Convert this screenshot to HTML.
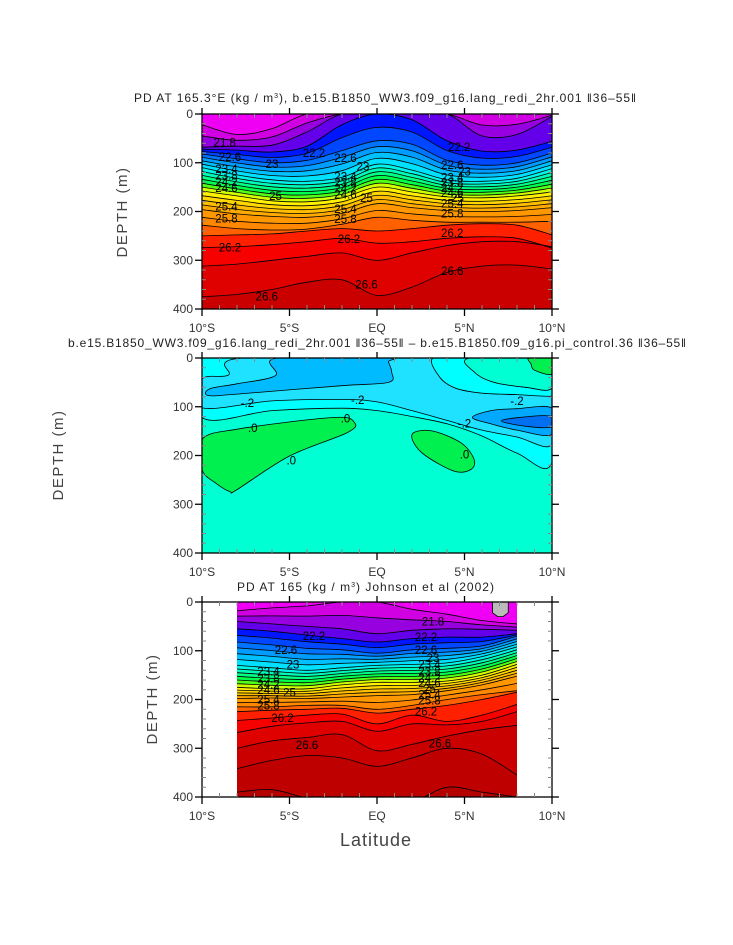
<!DOCTYPE html>
<html><head><meta charset="utf-8"><style>
html,body{margin:0;padding:0;background:#fff;}
svg{display:block;font-family:"Liberation Sans",sans-serif;}
</style></head><body>
<svg id="chart" width="733" height="945" viewBox="0 0 733 945" xmlns="http://www.w3.org/2000/svg">
<defs>
<clipPath id="c1"><rect x="202" y="114" width="350" height="195"/></clipPath>
<clipPath id="c2"><rect x="202" y="358" width="350" height="195"/></clipPath>
<clipPath id="c3"><rect x="237" y="602" width="280" height="195"/></clipPath>
</defs>
<g id="p1"></g>
<g id="p2"></g>
<g id="p3"></g>
<text x="134" y="102" font-size="12" textLength="502" lengthAdjust="spacing" fill="#222">PD AT 165.3°E (kg / m<tspan font-size="7" dy="-4">3</tspan><tspan dy="4">), b.e15.B1850_WW3.f09_g16.lang_redi_2hr.001  ‖36–55‖</tspan></text>
<text x="68" y="347" font-size="12" textLength="618" lengthAdjust="spacing" fill="#222">b.e15.B1850_WW3.f09_g16.lang_redi_2hr.001  ‖36–55‖  –  b.e15.B1850.f09_g16.pi_control.36  ‖36–55‖</text>
<text x="237" y="591" font-size="12" textLength="257" lengthAdjust="spacing" fill="#222">PD AT 165 (kg / m<tspan font-size="7" dy="-4">3</tspan><tspan dy="4">) Johnson et al (2002)</tspan></text>
<text transform="translate(127,212) rotate(-90)" font-size="15" text-anchor="middle" fill="#444" letter-spacing="1.5">DEPTH (m)</text>
<text transform="translate(63,455) rotate(-90)" font-size="15" text-anchor="middle" fill="#444" letter-spacing="1.5">DEPTH (m)</text>
<text transform="translate(157,699) rotate(-90)" font-size="15" text-anchor="middle" fill="#444" letter-spacing="1.5">DEPTH (m)</text>
<text x="376" y="846" font-size="18" text-anchor="middle" fill="#444" letter-spacing="1">Latitude</text>
</svg>
<script>
// ---------- data ----------
const lats1 = [-10,-8,-6,-4,-2,0,2,4,6,8,10];
const levels1 = [21.6,22.0,22.2,22.6,23.4,24.6,25.4,25.8,26.0,26.2,26.4,26.6];
const d1_216 = [22,42,30,0,0,0,0,0,0,0,0];
const d1_220 = [68,66,64,37,0,0,0,0,45,42,5];
const d1_222 = [72,74,78,66,22,0,12,55,76,74,56];
const d1_226 = [82,92,100,95,75,55,62,95,105,100,80];
const d1_234 = [110,125,135,138,130,103,115,135,138,132,112];
const d1_246 = [158,168,178,180,172,150,160,170,172,168,160];
const d1_254 = [196,205,210,212,204,184,192,198,200,198,192];
const d1_258 = [228,235,238,236,226,212,218,222,222,222,220];
const d1_260 = [250,248,246,240,235,240,235,228,225,228,248];
const d1_262 = [274,272,268,262,255,265,262,255,252,255,275];
const d1_264 = [312,308,300,292,285,300,285,270,262,262,272];
const d1_266 = [375,370,360,345,340,372,355,325,312,310,318];
const depths1 = [d1_216,d1_220,d1_222,d1_226,d1_234,d1_246,d1_254,d1_258,d1_260,d1_262,d1_264,d1_266];

const lats3 = [-8,-6,-4,-2,0,2,4,6,8];
const levels3 = [21.6,22.0,22.2,22.6,23.4,24.6,25.4,25.8,26.0,26.2,26.4,26.6,26.8,27.0];
const d3_216 = [18,12,8,0,0,15,25,38,45];
const d3_220 = [40,45,50,55,65,58,55,56,58];
const d3_222 = [55,60,68,75,82,75,72,72,65];
const d3_226 = [82,88,95,98,105,98,95,90,70];
const d3_234 = [130,135,140,135,130,128,125,112,92];
const d3_246 = [175,178,178,170,165,165,162,150,128];
const d3_254 = [198,197,198,195,192,190,182,170,152];
const d3_258 = [215,215,212,212,220,212,200,190,182];
const d3_260 = [225,222,220,218,228,220,212,200,185];
const d3_262 = [243,238,232,230,250,232,245,232,210];
const d3_264 = [268,255,248,245,265,250,252,245,225];
const d3_266 = [300,285,278,272,305,292,275,262,253];
const d3_268 = [342,325,315,320,337,320,300,312,355];
const d3_270 = [390,385,402,420,420,420,380,390,400];
const depths3 = [d3_216,d3_220,d3_222,d3_226,d3_234,d3_246,d3_254,d3_258,d3_260,d3_262,d3_264,d3_266,d3_268,d3_270];

// difference panel regions: [lat, depth] outlines
const diffCyanTop = [[-10,0],[10,0],[10,215],[8,195],[6,160],[4,135],[2,120],[0,108],[-2,103],[-6,108],[-10,122]];
const diffLightBlue = [[-10,43],[-8.5,35],[-7.7,0],[3.2,0],[3.6,40],[4.5,62],[6,72],[8,75],[10,78],[10,178],[8,162],[6,148],[4,128],[2,108],[0,90],[-2,85],[-6,88],[-10,102]];
const diffCyanRight = [[3.2,0],[5.3,0],[5.6,30],[6.7,50],[8.5,60],[10,62],[10,78],[8,75],[6,72],[4.5,62],[3.6,40]];
const diffAquaRight = [[5.3,0],[10,0],[10,62],[8.5,60],[6.7,50],[5.6,30]];
const diffGreenCorner = [[8.7,0],[10,0],[10,33],[9,25],[8.8,12]];
const diffBlueTop = [[-5.73,0],[-5.8,36],[-8,53],[-9.55,63],[-9.65,77],[-8,74],[-2.1,57],[0.65,50],[0.84,29],[0.65,8],[0.55,0]];
const diffBlueEllipse = [[5.45,122],[6.5,108],[8,104],[10,103],[10,157],[8,148],[6.5,135]];
const diffDarkBlue = [[7.1,129],[8.7,120],[10,120],[10,141],[8.7,141]];
const diffGreenLeft = [[-10,167],[-8,146],[-2.5,122],[-1.3,132],[-1.7,153],[-5,201],[-8,270],[-8.4,274],[-9.2,257],[-10,229]];
const diffGreenRight = [[2.1,153],[3.2,150],[4.8,174],[5.55,208],[5.35,229],[4.4,232],[2.8,201],[2.1,174]];

const xTickVals = [-10,-5,0,5,10];
const xTickLabels = ["10°S","5°S","EQ","5°N","10°N"];
const yTickVals = [0,100,200,300,400];

const labels1 = [[-8.7,58,"21.8"],[-3.6,80,"22.2"],[-8.4,88,"22.6"],[-6,103,"23"],[-8.6,113,"23.4"],[-8.6,126,"23.8"],[-8.6,139,"24.2"],[-8.6,152,"24.6"],[-5.8,168,"25"],[-8.6,190,"25.4"],[-8.6,214,"25.8"],[-8.4,274,"26.2"],[-6.3,374,"26.6"],[-1.8,90,"22.6"],[-0.8,108,"23"],[-1.8,128,"23.4"],[-1.8,140,"23.8"],[-1.8,153,"24.2"],[-1.8,165,"24.6"],[-0.6,172,"25"],[-1.8,195,"25.4"],[-1.8,215,"25.8"],[-1.6,256,"26.2"],[-0.6,350,"26.6"],[4.7,68,"22.2"],[4.3,105,"22.6"],[5.0,118,"23"],[4.3,130,"23.4"],[4.3,140,"23.8"],[4.3,152,"24.2"],[4.3,162,"24.6"],[4.6,172,"25"],[4.3,184,"25.4"],[4.3,204,"25.8"],[4.3,244,"26.2"],[4.3,322,"26.6"]];
const labels2 = [[-7.4,92,"-.2"],[-1.1,86,"-.2"],[8.0,88,"-.2"],[5.0,134,"-.2"],[-7.1,144,".0"],[-1.8,124,".0"],[-4.9,210,".0"],[5.0,198,".0"]];
const labels3 = [[3.2,40,"21.8"],[-3.6,70,"22.2"],[2.8,72,"22.2"],[-5.2,98,"22.6"],[2.8,98,"22.6"],[-4.8,128,"23"],[3.2,115,"23"],[-6.2,143,"23.4"],[3.0,128,"23.4"],[-6.2,157,"23.8"],[3.0,143,"23.8"],[-6.2,169,"24.2"],[3.0,156,"24.2"],[-6.2,180,"24.6"],[3.0,166,"24.6"],[-5.0,186,"25"],[3.0,178,"25"],[-6.2,200,"25.4"],[3.0,190,"25.4"],[-6.2,212,"25.8"],[3.0,202,"25.8"],[-5.4,238,"26.2"],[2.8,225,"26.2"],[-4.0,293,"26.6"],[3.6,290,"26.6"]];

// ---------- helpers ----------
const NS = "http://www.w3.org/2000/svg";
const svg = document.getElementById('chart');
const colorStops = [[21.4,[255,0,255]],[21.8,[192,0,216]],[22.0,[110,0,230]],[22.19,[90,0,235]],[22.21,[0,0,255]],[22.6,[0,96,255]],[23.0,[0,176,255]],[23.4,[0,240,255]],[23.8,[0,255,160]],[24.2,[0,255,48]],[24.4,[160,255,0]],[24.6,[255,255,0]],[25.0,[255,200,0]],[25.4,[255,160,0]],[25.8,[255,128,0]],[26.0,[255,64,0]],[26.2,[255,0,0]],[26.4,[238,0,0]],[26.6,[208,0,0]],[26.8,[196,0,0]],[27.2,[176,0,0]]];
function colorAt(v){
  if(v<=colorStops[0][0]) return 'rgb('+colorStops[0][1].join(',')+')';
  for(let i=1;i<colorStops.length;i++){
    if(v<=colorStops[i][0]){
      const a=colorStops[i-1],b=colorStops[i];const t=(v-a[0])/(b[0]-a[0]);
      return 'rgb('+a[1].map((c,k)=>Math.round(c+(b[1][k]-c)*t)).join(',')+')';
    }
  }
  return 'rgb('+colorStops[colorStops.length-1][1].join(',')+')';
}
function mk(tag,attrs,parent){const e=document.createElementNS(NS,tag);for(const k in attrs)e.setAttribute(k,attrs[k]);(parent||svg).appendChild(e);return e;}
function xS(x0){return lat=>x0+(lat+10)*17.5;}
function yS(y0){return d=>y0+d*195/400;}
function crPath(pts,start){
  let s=start?('M'+pts[0][0].toFixed(1)+','+pts[0][1].toFixed(1)):('L'+pts[0][0].toFixed(1)+','+pts[0][1].toFixed(1));
  for(let i=0;i<pts.length-1;i++){
    const p0=pts[Math.max(i-1,0)],p1=pts[i],p2=pts[i+1],p3=pts[Math.min(i+2,pts.length-1)];
    const c1=[p1[0]+(p2[0]-p0[0])/6,p1[1]+(p2[1]-p0[1])/6];
    const c2=[p2[0]-(p3[0]-p1[0])/6,p2[1]-(p3[1]-p1[1])/6];
    s+='C'+c1[0].toFixed(1)+','+c1[1].toFixed(1)+' '+c2[0].toFixed(1)+','+c2[1].toFixed(1)+' '+p2[0].toFixed(1)+','+p2[1].toFixed(1);
  }
  return s;
}
function closedPath(pts){
  const n=pts.length;let s='M'+pts[0][0].toFixed(1)+','+pts[0][1].toFixed(1);
  for(let i=0;i<n;i++){
    const p0=pts[(i-1+n)%n],p1=pts[i],p2=pts[(i+1)%n],p3=pts[(i+2)%n];
    const c1=[p1[0]+(p2[0]-p0[0])/6,p1[1]+(p2[1]-p0[1])/6];
    const c2=[p2[0]-(p3[0]-p1[0])/6,p2[1]-(p3[1]-p1[1])/6];
    s+='C'+c1[0].toFixed(1)+','+c1[1].toFixed(1)+' '+c2[0].toFixed(1)+','+c2[1].toFixed(1)+' '+p2[0].toFixed(1)+','+p2[1].toFixed(1);
  }
  return s+'Z';
}
function expand(levels,depths){
  const outL=[],outD=[];
  for(let i=0;i<levels.length;i++){
    outL.push(levels[i]);outD.push(depths[i]);
    if(i<levels.length-1){
      const n=Math.round((levels[i+1]-levels[i])/0.2);
      for(let k=1;k<n;k++){const t=k/n;outL.push(levels[i]+(levels[i+1]-levels[i])*t);outD.push(depths[i].map((d,j)=>d+(depths[i+1][j]-d)*t));}
    }
  }
  return [outL,outD];
}
function axes(g,x0,y0,name){
  const X=xS(x0),Y=yS(y0);
  mk('rect',{x:x0,y:y0,width:350,height:195,fill:'none',stroke:'#000','stroke-width':1.3,},g);
  for(let lat=-10;lat<=10;lat++){
    const major=lat%5===0;const x=X(lat);
    if(major){
      mk('line',{x1:x,x2:x,y1:y0+195,y2:y0+202,stroke:'#000','stroke-width':1.3},g);
      mk('line',{x1:x,x2:x,y1:y0,y2:y0-6,stroke:'#000','stroke-width':1.3},g);
    } else {
      mk('line',{x1:x,x2:x,y1:y0+195,y2:y0+191,stroke:'#888','stroke-width':1},g);
      mk('line',{x1:x,x2:x,y1:y0,y2:y0+4,stroke:'#888','stroke-width':1},g);
    }
  }
  for(let d=0;d<=400;d+=20){
    const y=Y(d);const major=d%100===0;
    if(major){
      mk('line',{x1:x0,x2:x0-7,y1:y,y2:y,stroke:'#000','stroke-width':1.3},g);
      mk('line',{x1:x0+350,x2:x0+357,y1:y,y2:y,stroke:'#000','stroke-width':1.3},g);
    } else {
      mk('line',{x1:x0,x2:x0+4,y1:y,y2:y,stroke:'#888','stroke-width':1},g);
      mk('line',{x1:x0+350,x2:x0+346,y1:y,y2:y,stroke:'#888','stroke-width':1},g);
    }
  }
  xTickVals.forEach((v,i)=>{
    const t=mk('text',{x:X(v),y:y0+218,'font-size':12,'text-anchor':'middle',fill:'#333'},g);
    
    
    t.textContent=xTickLabels[i];
  });
  yTickVals.forEach(v=>{
    const t=mk('text',{x:x0-9,y:Y(v)+4,'font-size':12,'text-anchor':'end',fill:'#333'},g);
    
    
    t.textContent=String(v);
  });
}
function contourPanel(g,x0,y0,lats,levels,depths,clip,labels){
  const X=xS(x0),Y=yS(y0);
  const [L,D]=expand(levels,depths);
  const cg=mk('g',{'clip-path':'url(#'+clip+')'},g);
  const xs=lats.map(X);
  const minX=xs[0],maxX=xs[xs.length-1];
  mk('rect',{x:minX,y:y0,width:maxX-minX,height:195,fill:colorAt(L[L.length-1]+0.2)},cg);
  const pts=D.map(arr=>arr.map((d,j)=>[xs[j],Y(Math.max(0,Math.min(410,d)))]));
  for(let i=-1;i<L.length;i++){
    const top=i<0?xs.map(x=>[x,y0-2]):pts[i];
    const bot=i<L.length-1?pts[i+1]:xs.map(x=>[x,y0+200]);
    const val=i<0?L[0]-0.1:(i<L.length-1?(L[i]+L[i+1])/2:L[i]+0.1);
    const p=crPath(top,true)+crPath(bot.slice().reverse(),false)+'Z';
    const band=mk('path',{d:p,fill:colorAt(val),stroke:colorAt(val),'stroke-width':0.6},cg);
    
    
  }
  pts.forEach(pp=>{
    const line=mk('path',{d:crPath(pp,true),fill:'none',stroke:'#000','stroke-width':0.8},cg);
    
    
  });
  labels.forEach(l=>{
    const t=mk('text',{x:X(l[0]),y:Y(l[1])+4,'font-size':11.5,'text-anchor':'middle',fill:'#000'},cg);
    
    
    t.textContent=l[2];
  });
  return cg;
}
// ---------- panel 1 ----------
const g1=document.getElementById('p1');
contourPanel(g1,202,114,lats1,levels1,depths1,'c1',labels1);
axes(g1,202,114,'panel1');
// ---------- panel 2 ----------
const g2=document.getElementById('p2');
(function(){
  const X=xS(202),Y=yS(358);
  const cg=mk('g',{'clip-path':'url(#c2)'},g2);
  mk('rect',{x:202,y:358,width:350,height:195,fill:'#00ffd2'},cg);
  const regions=[[diffCyanTop,'#00ffff','cyan-region'],[diffLightBlue,'#1ee2ff','light-blue-region'],[diffCyanRight,'#00ffff','cyan-right-region'],[diffAquaRight,'#00ffd2','aqua-right-region'],[diffGreenCorner,'#00f050','green-corner-region'],[diffBlueTop,'#00bbff','blue-region'],[diffBlueEllipse,'#00a8ff','blue-ellipse-region'],[diffDarkBlue,'#0070f0','dark-blue-region'],[diffGreenLeft,'#00f050','green-left-region'],[diffGreenRight,'#00f050','green-right-region']];
  regions.forEach(r=>{
    const pts=r[0].map(p=>[X(p[0]),Y(p[1])]);
    const e=mk('path',{d:closedPath(pts),fill:r[1],stroke:'#000','stroke-width':0.8},cg);
    
    
  });
  labels2.forEach(l=>{
    const t=mk('text',{x:X(l[0]),y:Y(l[1])+4,'font-size':11.5,'text-anchor':'middle',fill:'#000'},cg);
    
    
    t.textContent=l[2];
  });
})();
axes(g2,202,358,'panel2');
// ---------- panel 3 ----------
const g3=document.getElementById('p3');
const cg3=contourPanel(g3,202,602,lats3,levels3,depths3,'c3',labels3);
(function(){
  const X=xS(202),Y=yS(602);
  const gp=mk('path',{d:'M'+X(6.6)+','+Y(0)+' L'+X(6.6)+','+Y(22)+' L'+X(6.9)+','+Y(30)+' L'+X(7.2)+','+Y(30)+' L'+X(7.5)+','+Y(22)+' L'+X(7.5)+','+Y(0)+'Z',fill:'#bbb',stroke:'#000','stroke-width':0.8},cg3);
  
  
})();
axes(g3,202,602,'panel3');
</script>
</body></html>
